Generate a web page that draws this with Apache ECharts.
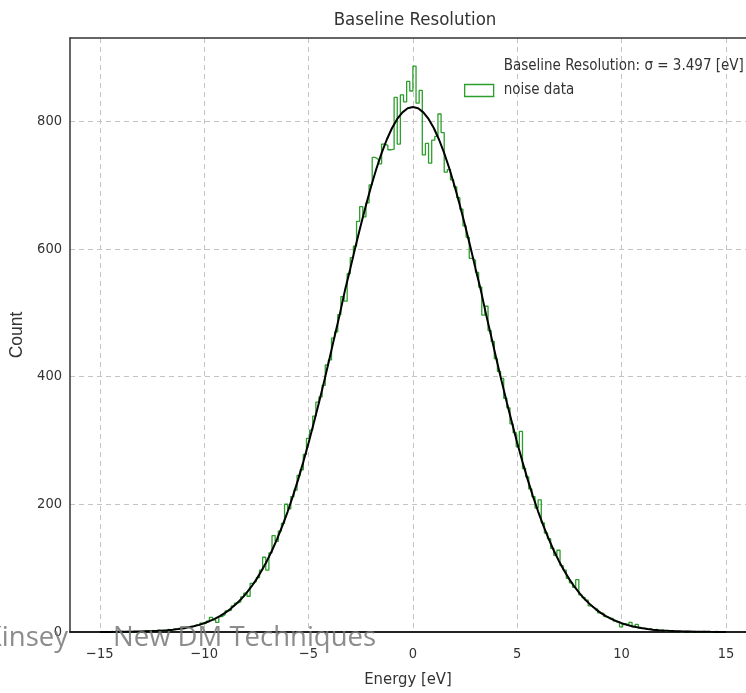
<!DOCTYPE html>
<html>
<head>
<meta charset="utf-8">
<script src="https://cdn.jsdelivr.net/npm/echarts@6/dist/echarts.min.js"></script>
<style>html,body{margin:0;padding:0;background:#fff;}#c{width:746px;height:693px;}</style>
</head>
<body>
<div id="c"></div>
<script>
// ---- data ----
const binStart = -15;
const binWidth = 0.15;
const counts = [
  0,0,0,1,0,0,1,0,1,0,
  1,0,1,1,2,1,1,2,3,2,
  2,4,3,5,4,6,5,8,7,9,
  11,10,14,13,17,23,19,15,24,27,
  33,34,41,45,47,55,61,56,76,79,
  85,97,117,97,124,151,142,158,170,200,
  193,212,222,245,254,278,303,316,338,360,
  368,386,418,426,460,470,497,525,518,561,
  586,604,643,666,650,672,700,743,740,733,
  764,762,755,756,837,764,841,830,862,847,
  886,828,848,747,765,734,770,776,811,782,
  720,724,708,697,680,662,636,618,585,582,
  563,540,496,510,472,455,428,408,397,366,
  351,326,312,290,314,256,243,224,212,194,
  207,171,155,146,131,120,128,104,97,84,
  77,70,82,58,54,50,41,38,36,30,
  29,24,22,21,17,16,8,13,11,15,
  8,12,6,6,4,5,3,4,2,3,
  1,2,2,1,1,0,1,1,0,1,
  0,0,1,0,0,0,1,0,0,0
];
const fitX = [
  -15,-14.75,-14.5,-14.25,-14,-13.75,-13.5,-13.25,-13,-12.75,-12.5,-12.25,-12,-11.75,-11.5,-11.25,
  -11,-10.75,-10.5,-10.25,-10,-9.75,-9.5,-9.25,-9,-8.75,-8.5,-8.25,-8,-7.75,-7.5,-7.25,
  -7,-6.75,-6.5,-6.25,-6,-5.75,-5.5,-5.25,-5,-4.75,-4.5,-4.25,-4,-3.75,-3.5,-3.25,
  -3,-2.75,-2.5,-2.25,-2,-1.75,-1.5,-1.25,-1,-0.75,-0.5,-0.25,0,
  0.25,0.5,0.75,1,1.25,1.5,1.75,2,2.25,2.5,2.75,3,3.25,3.5,3.75,4,
  4.25,4.5,4.75,5,5.25,5.5,5.75,6,6.25,6.5,6.75,7,7.25,7.5,7.75,8,
  8.25,8.5,8.75,9,9.25,9.5,9.75,10,10.25,10.5,10.75,11,11.25,11.5,11.75,12,
  12.25,12.5,12.75,13,13.25,13.5,13.75,14,14.25,14.5,14.75,15
];
const fitY = [
  0.1,0.1,0.15,0.2,0.3,0.35,0.5,0.65,0.8,1.1,1.4,1.8,2.3,2.9,3.7,4.6,
  5.8,7.3,9.1,11.2,13.8,16.9,20.5,24.8,30.0,35.9,42.9,50.8,60.0,70.5,82.4,95.8,
  110.9,127.6,146.1,166.6,188.6,212.8,238.6,266.4,295.8,327.4,359.2,392.8,427.3,463.2,498.1,535.7,
  568.9,603.4,636.6,668.1,698.0,725.3,749.8,771.1,789.1,803.3,813.6,819.9,822,
  819.9,813.6,803.3,789.1,771.1,749.8,725.3,698.0,668.1,636.6,603.4,568.9,535.7,498.1,463.2,427.3,
  392.8,359.2,327.4,295.8,266.4,238.6,212.8,188.6,166.6,146.1,127.6,110.9,95.8,82.4,70.5,60.0,
  50.8,42.9,35.9,30.0,24.8,20.5,16.9,13.8,11.2,9.1,7.3,5.8,4.6,3.7,2.9,2.3,
  1.8,1.4,1.1,0.8,0.65,0.5,0.35,0.3,0.2,0.15,0.1,0.1
];
const xTicks = [-15,-10,-5,0,5,10,15];
const yTicks = [0,200,400,600,800];
const titleText = 'Baseline Resolution';
const fitLabel = 'Baseline Resolution: σ = 3.497 [eV]';
const histLabel = 'noise data';

// ---- build ----
const green = '#2c9e2c';
const histData = [[binStart, 0]];
counts.forEach((c, k) => histData.push([binStart + k * binWidth, c]));
histData.push([binStart + counts.length * binWidth, counts[counts.length - 1]]);
histData.push([binStart + counts.length * binWidth, 0]);
const fitData = fitX.map((x, i) => [x, fitY[i]]);

const font = '"DejaVu Sans Condensed","Liberation Sans Narrow","DejaVu Sans",sans-serif';
const gridLine = {show: true, lineStyle: {color: '#c4c4c4', type: [5, 4], width: 1}};
const fmtMinus = v => (v < 0 ? '\u2212' + Math.abs(v) : String(v));

const chart = echarts.init(document.getElementById('c'), null, {renderer: 'canvas'});
chart.setOption({
  animation: false,
  backgroundColor: '#fff',
  title: {
    text: titleText, left: 410, top: 6, textAlign: 'center',
    textStyle: {fontFamily: font, fontSize: 18.5, fontWeight: 'normal', color: '#333'}
  },
  legend: {
    orient: 'vertical', left: 459, top: 54, itemWidth: 29, itemHeight: 12, itemGap: 9,
    textStyle: {fontFamily: font, fontSize: 15, color: '#333', padding: [0, 0, 0, 5]},
    data: [
      {name: fitLabel, icon: 'none'},
      {name: histLabel, icon: 'rect', itemStyle: {color: 'rgba(0,0,0,0)', borderColor: green, borderWidth: 1.3}}
    ]
  },
  grid: {left: 70, top: 38, right: 0, bottom: 55, containLabel: false},
  xAxis: [{
    type: 'value', min: -16.43, max: 15.96,
    axisLine: {show: true, onZero: false, lineStyle: {color: '#222', width: 2}},
    axisTick: {show: false, customValues: xTicks},
    axisLabel: {customValues: xTicks, formatter: fmtMinus, margin: 15, fontFamily: font, fontSize: 14.5, color: '#333'},
    splitLine: gridLine,
    name: 'Energy [eV]', nameLocation: 'middle', nameGap: 39,
    nameTextStyle: {fontFamily: font, fontSize: 16.5, color: '#333'}
  }, {
    type: 'value', position: 'top', min: -16.43, max: 15.96,
    axisLine: {show: true, onZero: false, lineStyle: {color: '#333', width: 1.5}},
    axisTick: {show: false}, axisLabel: {show: false}, splitLine: {show: false}
  }],
  yAxis: {
    type: 'value', min: 0, max: 930,
    axisLine: {show: true, onZero: false, lineStyle: {color: '#333', width: 1.5}},
    axisTick: {show: false, customValues: yTicks},
    axisLabel: {customValues: yTicks, margin: 8, fontFamily: font, fontSize: 14.5, color: '#333'},
    splitLine: gridLine,
    name: 'Count', nameLocation: 'middle', nameGap: 32,
    nameTextStyle: {fontFamily: '"Liberation Sans",Arial,sans-serif', fontSize: 17.5, color: '#333'}
  },
  series: [
    {name: histLabel, type: 'line', step: 'end', data: histData, showSymbol: false, symbol: 'none',
     lineStyle: {color: green, width: 1.3}, itemStyle: {color: green}, z: 2},
    {name: 'fit', type: 'line', data: fitData, smooth: false, showSymbol: false, symbol: 'none',
     lineStyle: {color: '#000', width: 2}, z: 3},
    {name: fitLabel, type: 'line', data: [], symbol: 'none', lineStyle: {opacity: 0}}
  ],
  graphic: [
    {type: 'text', right: 746 - 68, top: 624, z: 100,
     style: {text: 'Kinsey', fontFamily: '"Open Sans",sans-serif', fontSize: 27.5, fill: 'rgba(120,120,120,0.85)'}},
    {type: 'text', left: 113, top: 624, z: 100,
     style: {text: 'New DM Techniques', fontFamily: '"Open Sans",sans-serif', fontSize: 27.5, fill: 'rgba(120,120,120,0.85)'}}
  ]
});
</script>
</body>
</html>
